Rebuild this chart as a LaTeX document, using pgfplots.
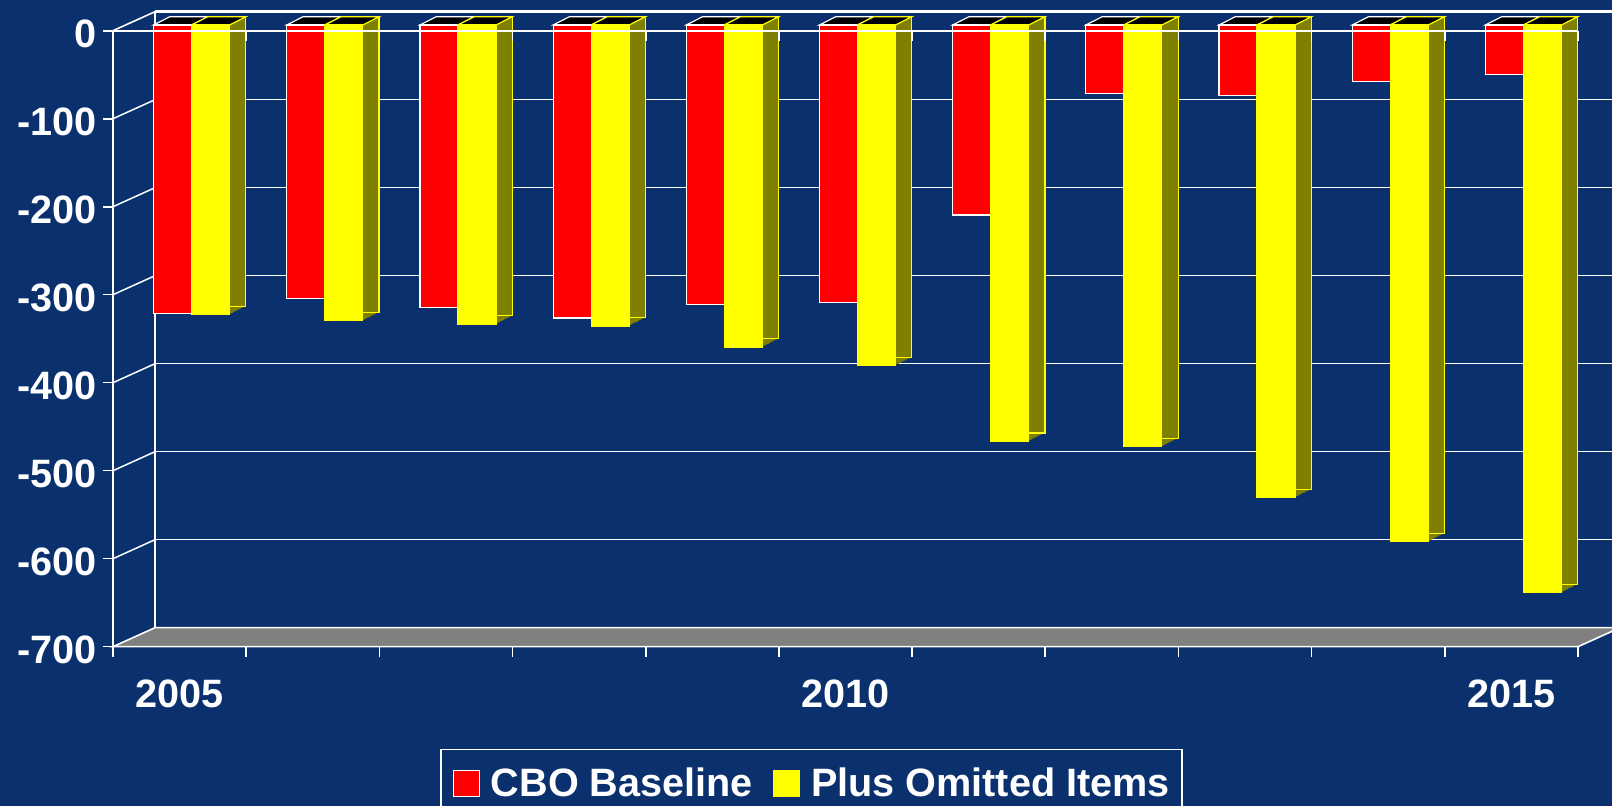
\documentclass[border=0pt]{standalone}
\usepackage{fontspec}
\setmainfont{Liberation Sans}
\usepackage{pgfplots}
\usepackage{pgfplotstable}
\pgfplotsset{compat=1.18}
\definecolor{bgblue}{RGB}{11,48,110}
\definecolor{olivec}{RGB}{128,128,0}
\definecolor{floorgray}{RGB}{128,128,128}
\definecolor{yellowc}{RGB}{255,255,0}
\definecolor{redc}{RGB}{255,0,0}

\pgfplotstableread{
x red yellow
0 -328 -329
1 -311 -336
2 -321 -340
3 -333 -342
4 -318 -366
5 -315 -387
6 -216 -473
7 -78 -479
8 -80 -537
9 -64 -587
10 -56 -645
}\data

\newcommand{\bigfont}{\fontsize{19.8}{24}\selectfont\bfseries}

\begin{document}
\begin{tikzpicture}
\path[use as bounding box] (-56.5pt,-79.65pt) rectangle (749.5pt,323.35pt);
\fill[bgblue] (-56.5pt,-79.65pt) rectangle (749.5pt,323.35pt);
\clip (-56.5pt,-79.65pt) rectangle (749.5pt,323.35pt);
\begin{axis}[
  at={(0,0)}, anchor=south west,
  scale only axis, width=732.5pt, height=308pt,
  xmin=-0.5, xmax=10.5, ymin=-700, ymax=0,
  clip=false,
  axis x line*=bottom, axis y line*=left,
  axis line style={-, white, line width=0.8pt},
  xtick={-0.5,0.5,...,10.5}, xticklabels={},
  extra x ticks={0,5,10}, extra x tick labels={2005,2010,2015},
  extra x tick style={major tick length=0pt},
  ytick={-700,-600,...,0},
  tick align=outside,
  major tick length=5pt,
  tick style={white, line width=0.8pt},
  /pgf/number format/assume math mode=true,
  tick label style={font=\bigfont, text=white},
  yticklabel style={inner sep=0pt, anchor=east, xshift=-3pt, yshift=-1.5pt},
  xticklabel style={inner sep=0pt, anchor=north, yshift=-16.5pt},
  legend style={at={(0.2232,-0.1653)}, anchor=north west, draw=white, line width=0.8pt,
    fill=none, text=white, font=\bigfont, inner xsep=6pt, inner ysep=9pt,
    nodes={inner sep=0pt}, column sep=5.5pt,
    /tikz/every even column/.append style={column sep=10pt}},
  legend columns=2,
]
% back wall gridlines
\pgfplotsinvokeforeach{-100,-200,-300,-400,-500,-600}{
  \draw[white, line width=0.75pt] ([shift={(21pt,9.5pt)}]axis cs:-0.5,#1) -- ([shift={(21pt,9.5pt)}]axis cs:10.5,#1);
  \draw[white, line width=0.75pt] (axis cs:-0.5,#1) -- ([shift={(21pt,9.5pt)}]axis cs:-0.5,#1);
}
\draw[white, line width=1.3pt] ([shift={(21pt,9.5pt)}]axis cs:-0.5,0) -- ([shift={(21pt,9.5pt)}]axis cs:10.5,0);
\draw[white, line width=0.8pt] (axis cs:-0.5,0) -- ([shift={(21pt,9.5pt)}]axis cs:-0.5,0);
\draw[white, line width=0.8pt] ([shift={(21pt,9.5pt)}]axis cs:-0.5,0) -- ([shift={(21pt,9.5pt)}]axis cs:-0.5,-700);
% floor
\filldraw[fill=floorgray, draw=white, line width=0.8pt] (axis cs:-0.5,-700) -- (axis cs:10.5,-700)
  -- ([shift={(21pt,9.5pt)}]axis cs:10.5,-700) -- ([shift={(21pt,9.5pt)}]axis cs:-0.5,-700) -- cycle;
% yellow side faces (extruded copies)
\pgfplotsinvokeforeach{1.0,0.9,0.8,0.7,0.6,0.5,0.4,0.3,0.2,0.1}{
  \addplot[ybar, bar width=19pt, bar shift=9.5pt, fill=olivec, draw=none, forget plot,
    xshift={6pt+#1*8.15pt}, yshift={2.85pt+#1*4.15pt}] table[x=x, y=yellow] {\data};
}
\addplot[ybar, bar width=19pt, bar shift=9.5pt, fill=none, draw=yellowc, line width=0.6pt, forget plot,
    xshift=14.15pt, yshift=7pt] table[x=x, y=yellow] {\data};
% top faces
\pgfplotsinvokeforeach{0,...,10}{
  \filldraw[fill=black, draw=white, line width=0.6pt]
    ([shift={(-13pt,2.85pt)}]axis cs:#1,0) -- ([shift={(6pt,2.85pt)}]axis cs:#1,0)
    -- ([shift={(14.15pt,7pt)}]axis cs:#1,0) -- ([shift={(-4.85pt,7pt)}]axis cs:#1,0) -- cycle;
  \filldraw[fill=black, draw=yellowc, line width=0.6pt]
    ([shift={(6pt,2.85pt)}]axis cs:#1,0) -- ([shift={(25pt,2.85pt)}]axis cs:#1,0)
    -- ([shift={(33.15pt,7pt)}]axis cs:#1,0) -- ([shift={(14.15pt,7pt)}]axis cs:#1,0) -- cycle;
}
% front faces
\addplot[ybar, bar width=19pt, bar shift=-9.5pt, fill=redc, draw=white, line width=0.6pt, forget plot,
    xshift=6pt, yshift=2.85pt] table[x=x, y=red] {\data};
\addplot[ybar, bar width=19pt, bar shift=9.5pt, fill=yellowc, draw=yellowc, line width=0.6pt, forget plot,
    xshift=6pt, yshift=2.85pt] table[x=x, y=yellow] {\data};
% front zero line with ticks
\draw[white, line width=0.8pt] (axis cs:-0.5,0) -- (axis cs:10.5,0);
\pgfplotsinvokeforeach{0.5,1.5,2.5,3.5,4.5,5.5,6.5,7.5,8.5,9.5,10.5}{
  \draw[white, line width=0.8pt] (axis cs:#1,0) -- ([shift={(0pt,-5pt)}]axis cs:#1,0);
}
% legend
\addlegendimage{legend image code/.code={\draw[fill=redc, draw=white, line width=0.6pt] (0pt,-6.5pt) rectangle (13pt,6.5pt);}}
\addlegendentry{CBO Baseline}
\addlegendimage{legend image code/.code={\draw[fill=yellowc, draw=yellowc, line width=0.6pt] (0pt,-6.5pt) rectangle (13pt,6.5pt);}}
\addlegendentry{Plus Omitted Items}
\end{axis}
\end{tikzpicture}
\end{document}
